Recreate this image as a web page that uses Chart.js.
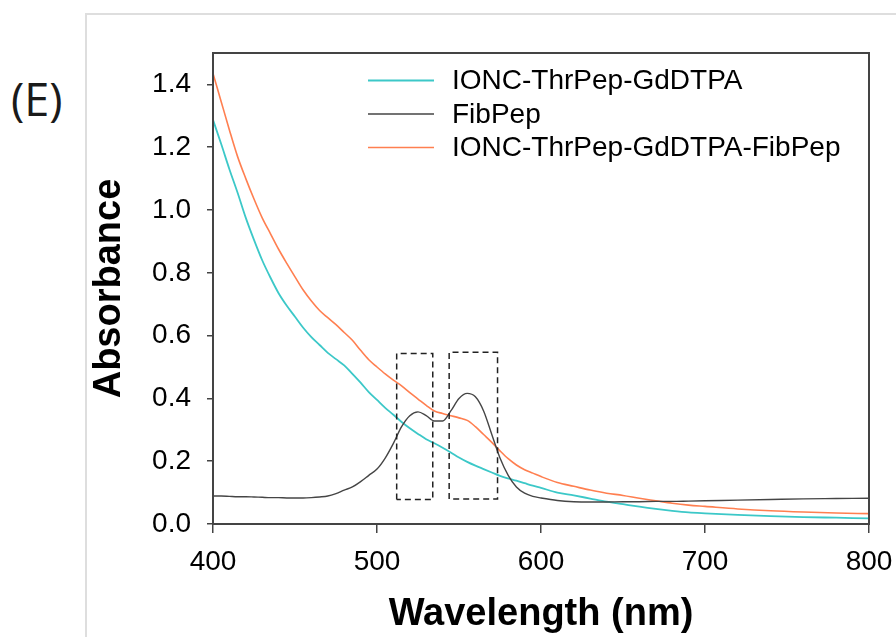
<!DOCTYPE html>
<html>
<head>
<meta charset="utf-8">
<script src="https://cdn.jsdelivr.net/npm/chart.js@4.4.1/dist/chart.umd.min.js"></script>
<style>
  html, body { margin: 0; padding: 0; background: #fff; overflow: hidden; }
  #wrap { position: relative; width: 896px; height: 637px; }
  #frame {
    position: absolute; left: 85px; top: 13px; width: 900px; height: 700px;
    border: 2px solid #dedede; box-sizing: border-box;
  }
  #panel {
    position: absolute; left: 11px; top: 68px;
    font-family: "Open Sans", sans-serif; font-size: 45px; color: #1a1a1a;
  }
  #chartBox { position: absolute; left: 0; top: 0; width: 896px; height: 637px; }
</style>
</head>
<body>
<div id="wrap">
  <div id="frame"></div>
  <div id="panel">(E)</div>
  <div id="chartBox"><canvas id="uv"></canvas></div>
</div>
<script>
// wavelength grid (nm) shared by the three spectra
const wavelengths = [400, 405, 410, 415, 420, 425, 430, 435, 440, 445, 450, 455, 460, 465, 470,
  475, 480, 485, 490, 495, 500, 505, 510, 515, 520, 525, 530, 535, 540, 545, 550, 555, 560,
  565, 570, 575, 580, 585, 590, 595, 600, 610, 620, 630, 640, 650, 660, 670, 680, 690, 700,
  720, 740, 760, 780, 800];

const ioncGd = [1.287, 1.21, 1.13, 1.055, 0.975, 0.905, 0.84, 0.785, 0.735, 0.695, 0.66, 0.625,
  0.595, 0.57, 0.545, 0.525, 0.505, 0.478, 0.45, 0.42, 0.395, 0.37, 0.348, 0.325, 0.305, 0.287,
  0.27, 0.257, 0.243, 0.228, 0.212, 0.198, 0.186, 0.175, 0.164, 0.153, 0.145, 0.138, 0.13,
  0.122, 0.115, 0.1, 0.091, 0.081, 0.071, 0.063, 0.055, 0.048, 0.042, 0.037, 0.034,
  0.029, 0.025, 0.022, 0.02, 0.018];

const fibPep = [0.089, 0.089, 0.088, 0.087, 0.087, 0.086, 0.085, 0.084, 0.084, 0.083, 0.083, 0.083,
  0.084, 0.086, 0.089, 0.097, 0.108, 0.118, 0.135, 0.155, 0.175, 0.21, 0.257, 0.31, 0.345, 0.357,
  0.345, 0.328, 0.328, 0.36, 0.4, 0.416, 0.405, 0.36, 0.285, 0.21, 0.155, 0.118, 0.098,
  0.088, 0.083, 0.075, 0.071, 0.07, 0.07, 0.071, 0.071, 0.072, 0.072, 0.073, 0.074,
  0.076, 0.078, 0.08, 0.081, 0.082];

const ioncGdFib = [1.435, 1.345, 1.255, 1.17, 1.1, 1.035, 0.975, 0.925, 0.875, 0.83, 0.787, 0.745,
  0.71, 0.68, 0.657, 0.635, 0.61, 0.585, 0.553, 0.523, 0.5, 0.478, 0.458, 0.44, 0.418, 0.398,
  0.378, 0.36, 0.352, 0.345, 0.338, 0.33, 0.31, 0.285, 0.26, 0.233, 0.208, 0.188, 0.173,
  0.162, 0.151, 0.132, 0.12, 0.108, 0.098, 0.091, 0.082, 0.074, 0.066, 0.06, 0.056,
  0.048, 0.042, 0.038, 0.035, 0.033];

const seriesNames = ['IONC-ThrPep-GdDTPA', 'FibPep', 'IONC-ThrPep-GdDTPA-FibPep'];
const seriesColors = ['#3cc8c8', '#454545', '#ff7f50'];

// dashed boxes marking the two FibPep bands: [x0, x1] and [y0, y1]
const box1X = [512, 534];
const box1Y = [0.078, 0.543];
const box2X = [544, 573.5];
const box2Y = [0.080, 0.547];

const xTicks = [400, 500, 600, 700, 800];

function toPoints(ys) {
  return wavelengths.map((w, i) => ({ x: w, y: ys[i] }));
}
function boxPoints(bx, by) {
  return [
    { x: bx[0], y: by[0] }, { x: bx[0], y: by[1] }, { x: bx[1], y: by[1] },
    { x: bx[1], y: by[0] }, { x: bx[0], y: by[0] }
  ];
}

const tickFont = { family: '"Liberation Sans", Arial, sans-serif', size: 28 };
const titleFont = { family: '"Liberation Sans", Arial, sans-serif', size: 38, weight: 'bold' };

// legend drawn inside the plot, plus the closed frame around the plot area
const insideLegend = {
  id: 'insideLegend',
  afterDraw(chart) {
    const { ctx, chartArea } = chart;
    ctx.save();
    ctx.strokeStyle = '#444';
    ctx.lineWidth = 2;
    ctx.strokeRect(chartArea.left, chartArea.top, chartArea.right - chartArea.left, chartArea.bottom - chartArea.top);
    ctx.font = '28px "Liberation Sans", Arial, sans-serif';
    ctx.textBaseline = 'middle';
    ctx.fillStyle = '#000';
    const x0 = chartArea.left + 155;
    const y0 = chartArea.top + 27.5;
    seriesNames.forEach((name, i) => {
      const y = y0 + i * 33.5;
      ctx.strokeStyle = seriesColors[i];
      ctx.lineWidth = i === 0 ? 2.2 : 1.6;
      ctx.beginPath();
      ctx.moveTo(x0, y);
      ctx.lineTo(x0 + 66, y);
      ctx.stroke();
      ctx.fillText(name, x0 + 84, y + 1);
    });
    ctx.restore();
  }
};

const lineDs = (i, ys, w) => ({
  label: seriesNames[i],
  data: toPoints(ys),
  borderColor: seriesColors[i],
  borderWidth: w,
  pointRadius: 0,
  cubicInterpolationMode: 'monotone',
  fill: false,
});
const boxDs = (bx, by) => ({
  label: 'box',
  data: boxPoints(bx, by),
  borderColor: '#222',
  borderWidth: 1.5,
  borderDash: [6, 4],
  pointRadius: 0,
  tension: 0,
  fill: false,
});

new Chart(document.getElementById('uv'), {
  type: 'line',
  data: {
    datasets: [
      boxDs(box1X, box1Y),
      boxDs(box2X, box2Y),
      lineDs(1, fibPep, 1.4),
      lineDs(2, ioncGdFib, 1.6),
      lineDs(0, ioncGd, 1.8),
    ],
  },
  options: {
    responsive: true,
    maintainAspectRatio: false,
    animation: false,
    layout: { padding: { left: 82, top: 53, right: 27, bottom: 0 } },
    plugins: {
      legend: { display: false },
      tooltip: { enabled: false },
    },
    scales: {
      x: {
        type: 'linear',
        min: 400,
        max: 800,
        afterBuildTicks: (s) => { s.ticks = xTicks.map((v) => ({ value: v })); },
        afterFit: (s) => { s.height = 113; s.paddingLeft = 0; s.paddingRight = 0; },
        grid: { drawOnChartArea: false, drawTicks: true, tickLength: 9, color: '#444', lineWidth: 1.5 },
        border: { display: true, color: '#444', width: 2 },
        ticks: { font: tickFont, color: '#000', padding: 12, maxRotation: 0 },
        title: { display: true, text: 'Wavelength (nm)', font: titleFont, color: '#000', padding: { top: 0, bottom: 0 } },
      },
      y: {
        type: 'linear',
        min: 0,
        max: 1.5,
        ticks: {
          stepSize: 0.2,
          includeBounds: false,
          font: tickFont,
          color: '#000',
          padding: 16,
          callback: (v) => v.toFixed(1),
        },
        afterFit: (s) => { s.width = 213 - 82; s.paddingTop = 0; s.paddingBottom = 0; },
        grid: { drawOnChartArea: false, drawTicks: true, tickLength: 6, color: '#444', lineWidth: 1.5 },
        border: { display: true, color: '#444', width: 2 },
        title: { display: true, text: 'Absorbance', font: titleFont, color: '#000', padding: { top: 5, bottom: 0 } },
      },
    },
  },
  plugins: [insideLegend],
});
</script>
</body>
</html>
